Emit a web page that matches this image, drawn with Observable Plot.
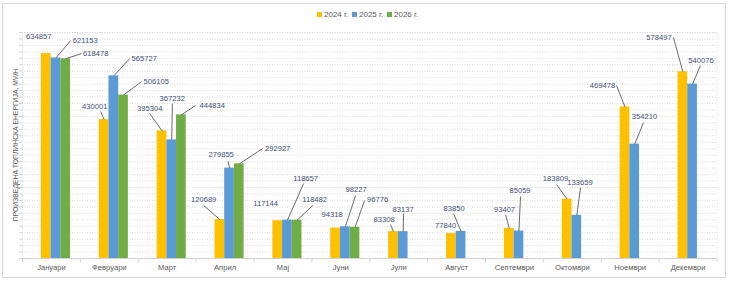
<!DOCTYPE html>
<html>
<head>
<meta charset="utf-8">
<script src="https://cdn.jsdelivr.net/npm/d3@7"></script>
<script src="https://cdn.jsdelivr.net/npm/@observablehq/plot@0.6"></script>
<style>
  html, body { margin: 0; padding: 0; background: #fff; }
  #wrap { position: relative; width: 730px; height: 282px; font-family: "Liberation Sans", Arial, sans-serif; }
  #legend { position: relative; height: 26px; }
  .item { position: absolute; top: 10px; font-size: 8px; color: #595959; line-height: 10px; white-space: nowrap; }
  .sw { display: inline-block; width: 5px; height: 5px; margin-right: 2px; vertical-align: 0px; }
  #ytitle { position: absolute; left: 15px; top: 145px; transform: translate(-50%, -50%) rotate(-90deg); font-size: 6.8px; color: #595959; white-space: nowrap; }
  #border { position: absolute; left: 2px; top: 3px; width: 722px; height: 273px; border: 1px solid #d9d9d9; pointer-events: none; z-index: 5; }
</style>
</head>
<body>
<div id="wrap">
  <div id="legend"></div>
  <div id="chart"></div>
  <div id="ytitle">ПРОИЗВЕДЕНА ТОПЛИНСКА ЕНЕРГИЈА, MWH</div>
  <div id="border"></div>
</div>
<script>
// ---------------- data ----------------
const months = ["Јануари","Февруари","Март","Април","Мај","Јуни","Јули","Август","Септември","Октомври","Ноември","Декември"];
const seriesNames = ["2024 г.","2025 г.","2026 г."];
const values2024 = [634857,430001,395304,120689,117144,94318,83308,77840,93407,183809,469478,578497];
const values2025 = [621153,565727,367232,279855,118657,98227,83137,83850,85059,133659,354210,540076];
const values2026 = [618478,506105,444834,292927,118482,96776,null,null,null,null,null,null];
const seriesColors = ["#FFC000","#5B9BD5","#70AD47"];
const gridTicks = d3.range(0, 700001, 20000);

// label placement relative to bar top, in pixels: [text dx, text dy, leader end dx, leader end dy]
const labelPlace2024 = [[-7.5,-17,0,0],[-9.4,-13.2,-3.4,-8.2],[-12.3,-22.4,-12.3,-17.4],[-16.2,-20,-16.2,-14],[-12.1,-17.2,0,0],[-3.5,-13.5,0,0],[-9.4,-12.1,-3,-7],[-5.8,-7.9,0,0],[-4.7,-18.8,-3.7,-13.8],[-11.6,-20.7,-10.6,-14.7],[-22.5,-21.4,-8.5,-21.4],[-23.9,-34.2,-9.4,-34.2]];
const labelPlace2025 = [[29.3,-17.5,14.8,-17.5],[30.4,-17.3,15.9,-17.3],[0.5,-41.4,0.7,-36.4],[-8.4,-13.6,-1.5,-7],[18.2,-41.7,16.2,-36.7],[10.8,-37.3,10.3,-31.3],[-0.1,-22.2,0.4,-18.2],[-7,-22.9,-7.5,-17.9],[1.1,-40.5,1.6,-34.5],[3.2,-32.8,3.7,-27.8],[9.8,-27.6,8.8,-21.6],[8.4,-23.6,7.9,-18.6]];
const labelPlace2026 = [[30.1,-5.3,16.1,-5.3],[32.7,-13.6,18.2,-13.6],[30.8,-9.4,14.3,-9.4],[38.4,-15.4,23.4,-15.4],[17.5,-20.7,15.5,-14.7],[22.6,-27.8,9.6,-26.8],null,null,null,null,null,null];

// ---------------- layout ----------------
const W = 730, H = 256, mL = 22, mR = 13.5, mT = 6, mB = 24;
const yMax = 700000;
const xUnit = (W - mL - mR) / 12;          // px per category
const yUnit = yMax / (H - mT - mB);        // value per px
const barW = 9.7 / xUnit;                  // bar width in category units
const groupShift = 4.5 / xUnit;

const allValues = [values2024, values2025, values2026];
const allPlace = [labelPlace2024, labelPlace2025, labelPlace2026];
const bars = [];
allValues.forEach((vals, s) => {
  vals.forEach((v, i) => {
    if (v == null) return;
    const x1 = i + groupShift + (s - 1.5) * barW;
    const p = allPlace[s][i];
    bars.push({
      i, s, v, x1, x2: x1 + barW, xc: x1 + barW / 2,
      tx: x1 + barW / 2 + p[0] / xUnit, ty: v - p[1] * yUnit,
      lx: x1 + barW / 2 + p[2] / xUnit, ly: v - p[3] * yUnit,
      hasLeader: p[2] !== 0 || p[3] !== 0
    });
  });
});

// legend
const legend = document.getElementById("legend");
const legendLeft = [317, 352, 387];
seriesNames.forEach((n, s) => {
  const d = document.createElement("div");
  d.className = "item";
  d.style.left = legendLeft[s] + "px";
  d.innerHTML = `<span class="sw" style="background:${seriesColors[s]}"></span>${n}`;
  legend.appendChild(d);
});

const chart = Plot.plot({
  width: W, height: H,
  marginLeft: mL, marginRight: mR, marginTop: mT, marginBottom: mB,
  style: { fontFamily: "Liberation Sans, Arial, sans-serif", background: "transparent" },
  x: { type: "linear", domain: [-0.5, 11.5], axis: null },
  y: { domain: [0, yMax], axis: null },
  marks: [
    Plot.gridY(gridTicks, { stroke: "#c9c9c9", strokeOpacity: 1, strokeDasharray: "1,1.5", strokeWidth: 0.7 }),
    Plot.ruleX([-0.5, 11.5], { stroke: "#d0d0d0", strokeDasharray: "1,1.5", strokeWidth: 0.7 }),
    Plot.ruleY([yMax], { stroke: "#d0d0d0", strokeDasharray: "1,1.5", strokeWidth: 0.7 }),
    Plot.axisY(gridTicks, { tickSize: 3, tickFormat: () => "", stroke: "#d4d4d4", label: null }),
    Plot.axisX(d3.range(-0.5, 12, 1), { tickSize: 4, tickFormat: () => "", stroke: "#d0d0d0", label: null }),
    Plot.ruleY([0], { stroke: "#d0d0d0", strokeWidth: 1 }),
    Plot.rectY(bars, { x1: "x1", x2: "x2", y1: 0, y2: "v", fill: d => seriesColors[d.s] }),
    Plot.link(bars.filter(d => d.hasLeader), { x1: "xc", y1: "v", x2: "lx", y2: "ly", stroke: "#5a5a5a", strokeWidth: 0.9 }),
    Plot.text(bars, { x: "tx", y: "ty", text: d => String(d.v), fill: "#3F4E78", fontSize: 7.6, textAnchor: "middle", lineAnchor: "middle" }),
    Plot.axisX(d3.range(12), { tickSize: 0, tickPadding: 6, tickFormat: i => months[i], fill: "#595959", fontSize: 7.6, label: null })
  ]
});
document.getElementById("chart").appendChild(chart);
</script>
</body>
</html>
